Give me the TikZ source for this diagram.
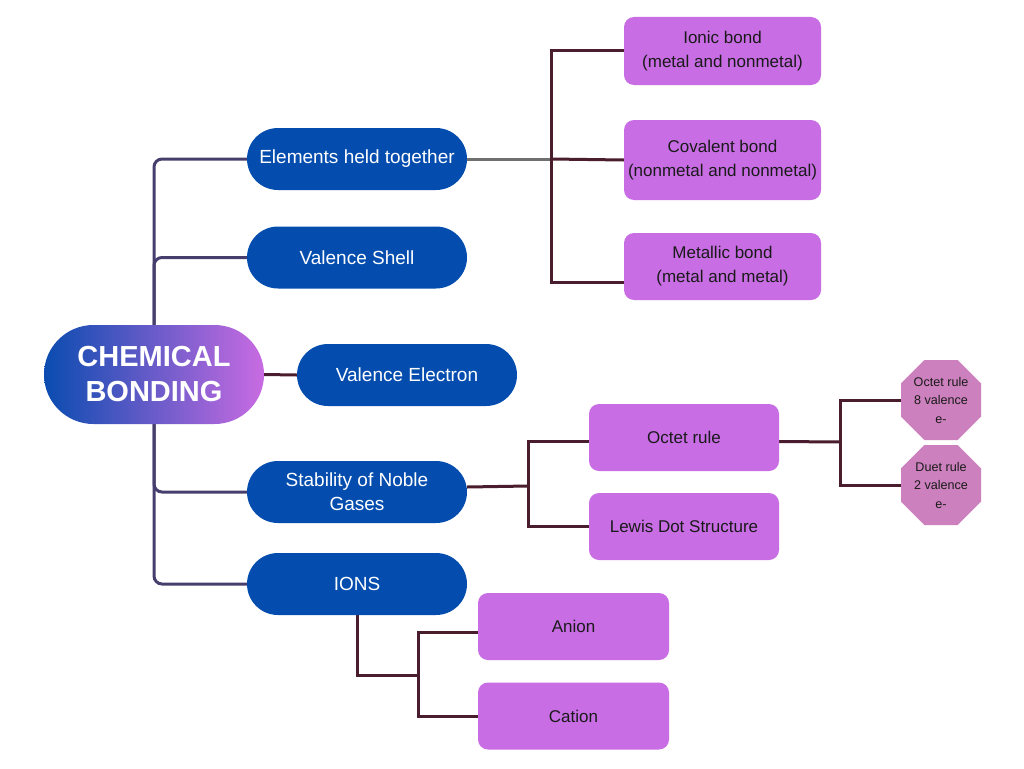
\documentclass[tikz,border=0pt]{standalone}
\usepackage{fontspec}
\setmainfont{Liberation Sans}
\usetikzlibrary{shapes.geometric,backgrounds,calc}
\definecolor{pillblue}{HTML}{044DAE}
\definecolor{boxpurple}{HTML}{C86DE4}
\definecolor{octpink}{HTML}{CC80BD}
\definecolor{treeL}{HTML}{463F6E}
\definecolor{brk}{HTML}{4A1D2E}
\definecolor{grayln}{HTML}{707070}
\definecolor{gradL}{HTML}{0A4CB0}
\definecolor{gradR}{HTML}{C96BE2}
\definecolor{boxtext}{HTML}{1A1A1A}
\begin{document}
\begin{tikzpicture}[x=1pt,y=-1pt,
 pill/.style={fill=pillblue, text=white, minimum width=220pt, minimum height=62pt, rounded corners=31pt, inner sep=2pt, align=center, font=\fontsize{19}{24}\selectfont},
 pbox/.style={fill=boxpurple, text=boxtext, minimum width=197pt, minimum height=67pt, rounded corners=10pt, inner sep=2pt, align=center, font=\fontsize{17}{24}\selectfont},
 oct/.style={regular polygon, regular polygon sides=8, fill=octpink, minimum size=86.6pt, inner sep=0pt, align=center, text=boxtext, font=\fontsize{12.6}{18.5}\selectfont},
 lconn/.style={draw=treeL, line width=3pt, rounded corners=8pt},
 rconn/.style={draw=brk, line width=3pt},
]
\useasboundingbox (0,0) rectangle (1024,768);

% central node
\node[minimum width=220pt, minimum height=99pt, rounded corners=49.5pt, left color=gradL, right color=gradR, text=white, inner sep=2pt, align=center, font=\bfseries\fontsize{29}{35}\selectfont] (chem) at (154,374.5) {CHEMICAL\\BONDING};

% blue pills
\node[pill] (elem) at (357,159) {Elements held together};
\node[pill] (vshell) at (357,257.5) {Valence Shell};
\node[pill] (velec) at (407,375) {Valence Electron};
\node[pill] (stab) at (357,492) {Stability of Noble\\Gases};
\node[pill] (ions) at (357,584) {IONS};

% purple boxes
\node[pbox, minimum height=68pt] (ionic) at (722.5,51) {Ionic bond\\(metal and nonmetal)};
\node[pbox, minimum height=80pt] (coval) at (722.5,160) {Covalent bond\\(nonmetal and nonmetal)};
\node[pbox] (metal) at (722.5,266.5) {Metallic bond\\(metal and metal)};
\node[pbox, minimum width=190pt] (octet) at (684,437.5) {Octet rule};
\node[pbox, minimum width=190pt] (lewis) at (684,526.5) {Lewis Dot Structure};
\node[pbox, minimum width=191pt] (anion) at (573.5,626.5) {Anion};
\node[pbox, minimum width=191pt] (cation) at (573.5,716) {Cation};

% octagons
\node[oct] (oct1) at (941,400) {Octet rule\\8 valence\\e-};
\node[oct] (oct2) at (941,485) {Duet rule\\2 valence\\e-};

% bracket coordinates
\coordinate (b1) at (551,159);
\coordinate (b2) at (528,486);
\coordinate (b3) at (840,442);
\coordinate (b4) at (418,675);

\begin{pgfonlayer}{background}
 \fill[white] (0,0) rectangle (1024,768);
 % left tree
 \draw[lconn] (elem.west) -| (chem.north);
 \draw[lconn] (vshell.west) -| (chem.north);
 \draw[lconn] (stab.west) -| (chem.south);
 \draw[lconn] (ions.west) -| (chem.south);
 \draw[rconn] (chem.east) -- (velec.west);
 % elements bracket
 \draw[draw=grayln, line width=3pt] (elem.east) -- (b1);
 \draw[rconn] (b1) |- (ionic.west);
 \draw[rconn] (b1) -- (coval.west);
 \draw[rconn] (b1) |- ($(metal.west)+(0,16)$);
 % stability bracket
 \draw[rconn] ($(stab.east)+(0,-5)$) -- (b2);
 \draw[rconn] (b2) |- ($(octet.west)+(0,4)$);
 \draw[rconn] (b2) |- (lewis.west);
 % octet bracket
 \draw[rconn] ($(octet.east)+(0,4)$) -- (b3);
 \draw[rconn] (b3) |- (oct1.west);
 \draw[rconn] (b3) |- (oct2.west);
 % ions bracket
 \draw[rconn] (ions.south) |- (b4);
 \draw[rconn] (b4) |- ($(anion.west)+(0,6)$);
 \draw[rconn] (b4) |- (cation.west);
\end{pgfonlayer}
\end{tikzpicture}
\end{document}
